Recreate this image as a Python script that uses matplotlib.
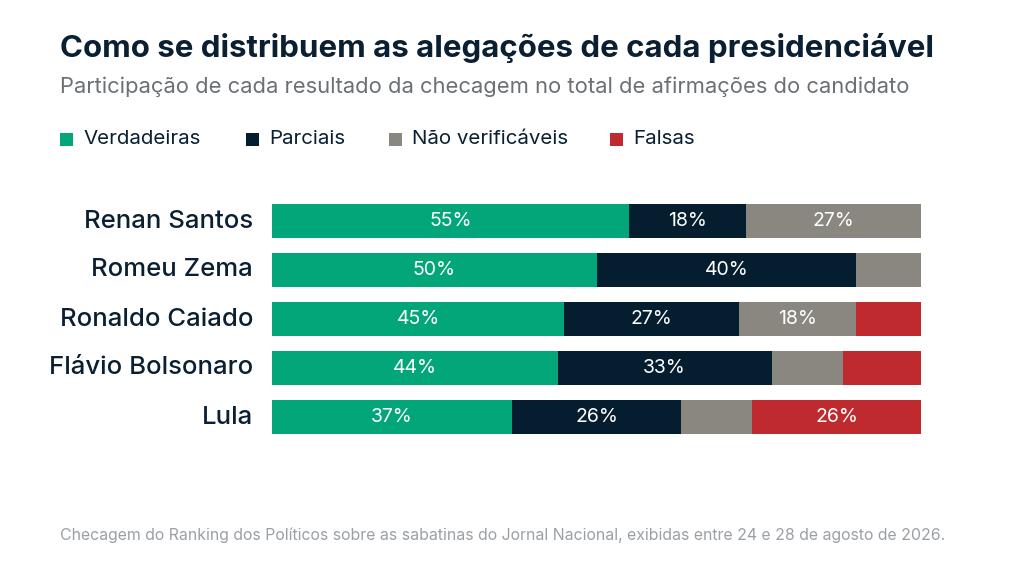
import matplotlib
matplotlib.use("Agg")
import matplotlib.pyplot as plt
from matplotlib.patches import Rectangle

candidates = ["Renan Santos", "Romeu Zema", "Ronaldo Caiado", "Flávio Bolsonaro", "Lula"]
series = ["Verdadeiras", "Parciais", "Não verificáveis", "Falsas"]
verdadeiras = [55, 50, 45, 44, 37]
parciais = [18, 40, 27, 33, 26]
nao_verif = [27, 10, 18, 11, 11]
falsas = [0, 0, 10, 12, 26]
colors = ["#02A678", "#041E30", "#8A8780", "#BE2A2E"]

plt.rcParams['font.family'] = ['Inter', 'DejaVu Sans']
fig = plt.figure(figsize=(10.24, 5.76), dpi=100)
W, H = 1024, 576
ax = fig.add_axes([272/W, (576-441.5)/H, 649/W, 245/H])
ax.set_xlim(0, 100)
ax.set_ylim(4.5, -0.5)
ax.axis('off')
data = [verdadeiras, parciais, nao_verif, falsas]
for i, name in enumerate(candidates):
    left = 0
    for s, vals in enumerate(data):
        v = vals[i]
        if v > 0:
            ax.barh(i, v, left=left, height=0.69, color=colors[s], linewidth=0)
            if v >= 15:
                ax.text(left + v/2, i, f"{v}%", ha='center', va='center',
                        color='white', fontsize=14)
        left += v
    ax.text(-2.9, i, name, ha='right', va='center', fontsize=18.5, fontweight='medium', color='#0B1F33')

fig.text(60/W, 1-48/H, "Como se distribuem as alegações de cada presidenciável",
         fontsize=22.5, fontweight='bold', color='#0B1F33', va='center')
fig.text(60/W, 1-87/H, "Participação de cada resultado da checagem no total de afirmações do candidato",
         fontsize=15.8, color='#6B7075', va='center')
lx = [60, 246, 389, 610]
for x, lab, c in zip(lx, series, colors):
    fig.patches.append(Rectangle((x/W, 1-146/H), 13/W, 13/H, transform=fig.transFigure,
                                 color=c, linewidth=0))
    fig.text((x+23)/W, 1-139/H, lab, fontsize=14.8, color='#0B1F33', va='center')
fig.text(60/W, 1-535/H,
         "Checagem do Ranking dos Políticos sobre as sabatinas do Jornal Nacional, exibidas entre 24 e 28 de agosto de 2026.",
         fontsize=11.4, color='#9AA0A6', va='center')
fig.savefig("out.png", dpi=100, facecolor='white')
